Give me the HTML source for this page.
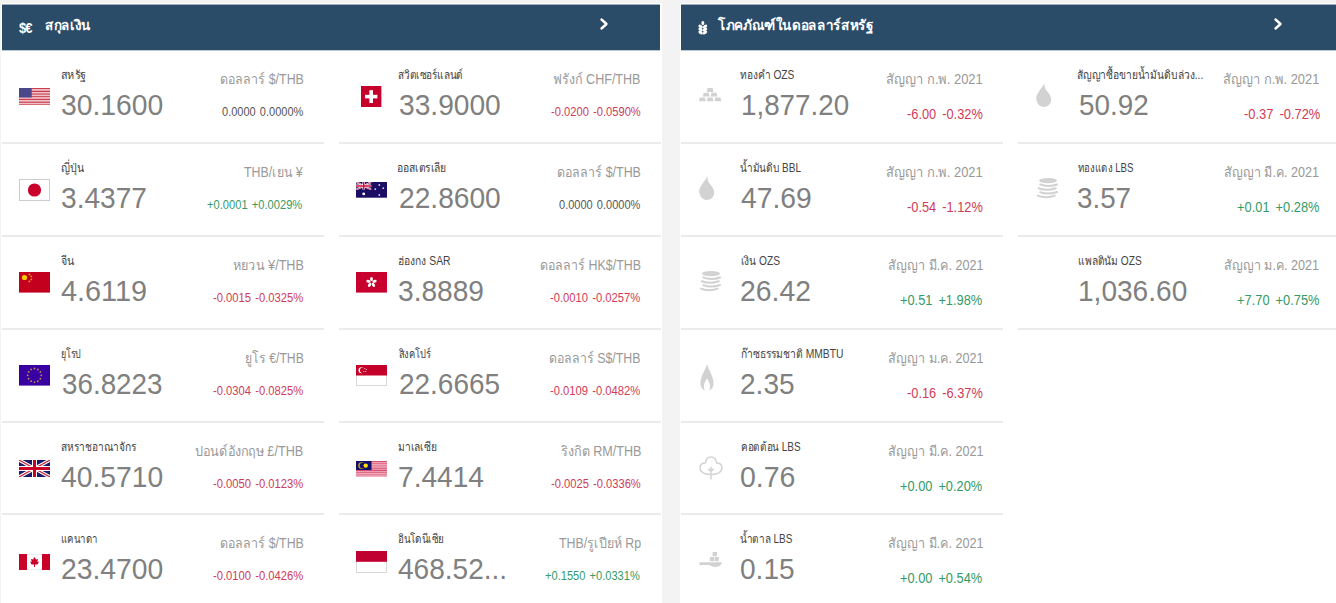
<!DOCTYPE html>
<html><head><meta charset="utf-8"><style>
*{box-sizing:border-box;margin:0;padding:0}
html,body{width:1336px;height:603px;overflow:hidden;background:#f3f3f3;font-family:"Liberation Sans",sans-serif}
.pn{position:absolute;top:3px;background:#fff;height:610px;overflow:hidden}
.hd{position:absolute;left:1px;top:2px;right:0;height:45px;background:#2b4c68;color:#fff;box-shadow:0 -1px 0 rgba(43,76,104,.45),0 1px 0 rgba(43,76,104,.3)}
.c{position:absolute;width:322px;height:93px}
.sep{position:absolute;left:0;right:0;top:92px;height:2px;background:#ebebeb}
.t{position:absolute;white-space:nowrap;line-height:1;transform-origin:0 0}
.lab{font-size:12px;color:#444}
.val{font-size:29px;color:#808080}
.rt{font-size:14px;color:#999}
.rb{font-size:12px}
.crb{font-size:14px}
.gp{display:inline-block;width:4.5px}
.crb .gp{width:6.5px}
.r{color:#d03c58}.g{color:#359a66}.n{color:#555}
svg{position:absolute;overflow:visible}
svg.fl{overflow:hidden}
</style></head><body>
<div class="pn" style="left:1px;width:660.5px">
<div class="hd" style="width:658px"><div class="t" style="left:16.8px;top:16px;font-size:14px;font-weight:bold;letter-spacing:-1px;transform:scaleX(0.93)">$€</div><div class="t" style="left:43px;top:13px;font-size:14px;font-weight:bold;transform:scaleX(0.955)">สกุลเงิน</div><svg style="left:598px;top:12.6px" width="10" height="12" viewBox="0 0 10 12"><path d="M1.5 1.5L6.5 6L1.5 10.5" stroke="#fff" stroke-width="2.4" fill="none" stroke-linecap="round" stroke-linejoin="round"/></svg></div>
<div class="c" style="left:1px;top:47px"><svg class="fl" style="left:17.00px;top:37.90px" width="31" height="17.6" viewBox="0 0 31 17.6"><rect x="0" y="0.00" width="31" height="1.40" fill="#c8404f"/><rect x="0" y="1.35" width="31" height="1.40" fill="#f2c0c8"/><rect x="0" y="2.71" width="31" height="1.40" fill="#c8404f"/><rect x="0" y="4.06" width="31" height="1.40" fill="#f2c0c8"/><rect x="0" y="5.42" width="31" height="1.40" fill="#c8404f"/><rect x="0" y="6.77" width="31" height="1.40" fill="#f2c0c8"/><rect x="0" y="8.12" width="31" height="1.40" fill="#c8404f"/><rect x="0" y="9.48" width="31" height="1.40" fill="#f2c0c8"/><rect x="0" y="10.83" width="31" height="1.40" fill="#c8404f"/><rect x="0" y="12.18" width="31" height="1.40" fill="#f2c0c8"/><rect x="0" y="13.54" width="31" height="1.40" fill="#c8404f"/><rect x="0" y="14.89" width="31" height="1.40" fill="#f2c0c8"/><rect x="0" y="16.25" width="31" height="1.40" fill="#c8404f"/><rect x="0" y="0" width="12.7" height="9.48" fill="#4b478a"/></svg><div id="c00l" class="t lab" style="left:59.00px;top:19px;transform:scaleX(0.9022)">สหรัฐ</div><div id="c00v" class="t val" style="left:58.56px;top:41px;transform:scaleX(0.9762)">30.1600</div><div id="c00t" class="t rt" style="left:217.67px;top:22px;transform:scaleX(0.8872)">ดอลลาร์ $/THB</div><div id="c00b" class="t rb n" style="left:220.00px;top:56px;transform:scaleX(0.9182)">0.0000<i class="gp"></i>0.0000%</div><div class="sep"></div></div>
<div class="c" style="left:1px;top:140px"><svg class="fl" style="left:17.00px;top:35.70px" width="31" height="22" viewBox="0 0 31 22"><rect x="0.5" y="0.5" width="30" height="21" fill="#fff" stroke="#ccc"/><circle cx="15.5" cy="11" r="6.6" fill="#c8002a"/></svg><div id="c01l" class="t lab" style="left:59.00px;top:19px;transform:scaleX(0.8846)">ญี่ปุ่น</div><div id="c01v" class="t val" style="left:58.50px;top:41px;transform:scaleX(0.9690)">3.4377</div><div id="c01t" class="t rt" style="left:242.31px;top:22px;transform:scaleX(0.8824)">THB/เยน ¥</div><div id="c01b" class="t rb g" style="left:205.16px;top:56px;transform:scaleX(0.9286)">+0.0001<i class="gp"></i>+0.0029%</div><div class="sep"></div></div>
<div class="c" style="left:1px;top:233px"><svg class="fl" style="left:17.00px;top:36.40px" width="31" height="20.6" viewBox="0 0 31 20.6"><rect width="31" height="20.6" fill="#c4001f"/><circle cx="5.5" cy="5.5" r="2.6" fill="#f5d000"/><circle cx="10.4" cy="2.4" r="0.9" fill="#e8a000"/><circle cx="12.3" cy="4.4" r="0.9" fill="#e8a000"/><circle cx="12.3" cy="7.4" r="0.9" fill="#e8a000"/><circle cx="10.4" cy="9.4" r="0.9" fill="#e8a000"/></svg><div id="c02l" class="t lab" style="left:59.00px;top:19px;transform:scaleX(0.8919)">จีน</div><div id="c02v" class="t val" style="left:59.00px;top:41px;transform:scaleX(0.9953)">4.6119</div><div id="c02t" class="t rt" style="left:230.71px;top:22px;transform:scaleX(0.9027)">หยวน ¥/THB</div><div id="c02b" class="t rb r" style="left:211.14px;top:56px;transform:scaleX(0.9351)">-0.0015<i class="gp"></i>-0.0325%</div><div class="sep"></div></div>
<div class="c" style="left:1px;top:326px"><svg class="fl" style="left:17.00px;top:36.40px" width="31" height="20.6" viewBox="0 0 31 20.6"><rect width="31" height="20.6" fill="#3800a0"/><circle cx="15.50" cy="3.50" r="0.9" fill="#c89050"/><circle cx="18.90" cy="4.41" r="0.9" fill="#c89050"/><circle cx="21.39" cy="6.90" r="0.9" fill="#c89050"/><circle cx="22.30" cy="10.30" r="0.9" fill="#c89050"/><circle cx="21.39" cy="13.70" r="0.9" fill="#c89050"/><circle cx="18.90" cy="16.19" r="0.9" fill="#c89050"/><circle cx="15.50" cy="17.10" r="0.9" fill="#c89050"/><circle cx="12.10" cy="16.19" r="0.9" fill="#c89050"/><circle cx="9.61" cy="13.70" r="0.9" fill="#c89050"/><circle cx="8.70" cy="10.30" r="0.9" fill="#c89050"/><circle cx="9.61" cy="6.90" r="0.9" fill="#c89050"/><circle cx="12.10" cy="4.41" r="0.9" fill="#c89050"/></svg><div id="c03l" class="t lab" style="left:59.11px;top:19px;transform:scaleX(0.7478)">ยุโรป</div><div id="c03v" class="t val" style="left:59.55px;top:41px;transform:scaleX(0.9584)">36.8223</div><div id="c03t" class="t rt" style="left:242.88px;top:22px;transform:scaleX(0.8701)">ยูโร €/THB</div><div id="c03b" class="t rb r" style="left:211.14px;top:56px;transform:scaleX(0.9351)">-0.0304<i class="gp"></i>-0.0825%</div><div class="sep"></div></div>
<div class="c" style="left:1px;top:419px"><svg class="fl" style="left:17.00px;top:38.20px" width="31" height="17" viewBox="0 0 31 17"><rect width="31" height="17" fill="#1a1a6a"/><path d="M0 0L31 17M31 0L0 17" stroke="#fff" stroke-width="3.4"/><path d="M0 0L31 17M31 0L0 17" stroke="#d0303f" stroke-width="1.3"/><path d="M15.5 0V17M0 8.5H31" stroke="#fff" stroke-width="5"/><path d="M15.5 0V17M0 8.5H31" stroke="#cc0022" stroke-width="3"/></svg><div id="c04l" class="t lab" style="left:59.00px;top:19px;transform:scaleX(0.8506)">สหราชอาณาจักร</div><div id="c04v" class="t val" style="left:59.00px;top:41px;transform:scaleX(0.9742)">40.5710</div><div id="c04t" class="t rt" style="left:193.02px;top:22px;transform:scaleX(0.9057)">ปอนด์อังกฤษ £/THB</div><div id="c04b" class="t rb r" style="left:211.14px;top:56px;transform:scaleX(0.9351)">-0.0050<i class="gp"></i>-0.0123%</div><div class="sep" style="top:91px"></div></div>
<div class="c" style="left:1px;top:511px"><svg class="fl" style="left:17.00px;top:39.70px" width="31" height="16" viewBox="0 0 31 16"><rect width="31" height="16" fill="#fff" stroke="#ddd" stroke-width="1"/><rect width="8" height="16" fill="#c8002a"/><rect x="23" width="8" height="16" fill="#c8002a"/><path d="M15.5 3L17 5.5L19 5L18.3 8L20 7.5L18.5 10.5L16 10.5L16 13L15 13L15 10.5L12.5 10.5L11 7.5L12.7 8L12 5L14 5.5Z" fill="#c8002a"/></svg><div id="c05l" class="t lab" style="left:59.11px;top:19px;transform:scaleX(0.8009)">แคนาดา</div><div id="c05v" class="t val" style="left:58.56px;top:41px;transform:scaleX(0.9762)">23.4700</div><div id="c05t" class="t rt" style="left:217.67px;top:22px;transform:scaleX(0.8872)">ดอลลาร์ $/THB</div><div id="c05b" class="t rb r" style="left:211.14px;top:56px;transform:scaleX(0.9351)">-0.0100<i class="gp"></i>-0.0426%</div><div class="sep"></div></div>
<div class="c" style="left:338px;top:47px"><svg class="fl" style="left:22.30px;top:36.10px" width="20.4" height="21.2" viewBox="0 0 20.4 21.2"><rect width="20.4" height="21.2" fill="#c4002b"/><rect x="8.4" y="4.2" width="3.6" height="12.8" fill="#fff"/><rect x="4" y="8.8" width="12.4" height="3.6" fill="#fff"/></svg><div id="c10l" class="t lab" style="left:59.00px;top:19px;transform:scaleX(0.8348)">สวิตเซอร์แลนด์</div><div id="c10v" class="t val" style="left:59.57px;top:41px;transform:scaleX(0.9709)">33.9000</div><div id="c10t" class="t rt" style="left:214.39px;top:22px;transform:scaleX(0.8968)">ฟรังก์ CHF/THB</div><div id="c10b" class="t rb r" style="left:212.12px;top:56px;transform:scaleX(0.9296)">-0.0200<i class="gp"></i>-0.0590%</div><div class="sep"></div></div>
<div class="c" style="left:338px;top:140px"><svg class="fl" style="left:17.00px;top:38.85px" width="31" height="15.7" viewBox="0 0 31 15.7"><rect width="31" height="15.7" fill="#1c0c64"/><clipPath id="auc"><rect width="15.5" height="7.8"/></clipPath><g clip-path="url(#auc)"><rect width="15.5" height="7.8" fill="#1c0c64"/><path d="M0 0L15.5 7.8M15.5 0L0 7.8" stroke="#fff" stroke-width="1.8"/><path d="M0 0L15.5 7.8M15.5 0L0 7.8" stroke="#d03050" stroke-width="0.8"/><path d="M7.75 0V7.8M0 3.9H15.5" stroke="#fff" stroke-width="2.6"/><path d="M7.75 0V7.8M0 3.9H15.5" stroke="#d0103a" stroke-width="1.5"/></g><circle cx="7.7" cy="11.9" r="1.4" fill="#fff"/><circle cx="23.3" cy="3" r="0.9" fill="#d8d0f0"/><circle cx="27.3" cy="6.2" r="0.9" fill="#d8d0f0"/><circle cx="19.3" cy="7.2" r="0.9" fill="#d8d0f0"/><circle cx="23.3" cy="13" r="0.9" fill="#d8d0f0"/></svg><div id="c11l" class="t lab" style="left:58.05px;top:19px;transform:scaleX(0.8628)">ออสเตรเลีย</div><div id="c11v" class="t val" style="left:59.57px;top:41px;transform:scaleX(0.9709)">22.8600</div><div id="c11t" class="t rt" style="left:217.67px;top:22px;transform:scaleX(0.8872)">ดอลลาร์ $/THB</div><div id="c11b" class="t rb n" style="left:220.00px;top:56px;transform:scaleX(0.9182)">0.0000<i class="gp"></i>0.0000%</div><div class="sep"></div></div>
<div class="c" style="left:338px;top:233px"><svg class="fl" style="left:17.00px;top:36.40px" width="31" height="20.6" viewBox="0 0 31 20.6"><rect width="31" height="20.6" fill="#c8002e"/><ellipse cx="15.50" cy="7.10" rx="1.4" ry="2.2" transform="rotate(0 15.50 7.10)" fill="#fff"/><ellipse cx="18.54" cy="9.31" rx="1.4" ry="2.2" transform="rotate(72 18.54 9.31)" fill="#fff"/><ellipse cx="17.38" cy="12.89" rx="1.4" ry="2.2" transform="rotate(144 17.38 12.89)" fill="#fff"/><ellipse cx="13.62" cy="12.89" rx="1.4" ry="2.2" transform="rotate(216 13.62 12.89)" fill="#fff"/><ellipse cx="12.46" cy="9.31" rx="1.4" ry="2.2" transform="rotate(288 12.46 9.31)" fill="#fff"/><circle cx="15.5" cy="10.3" r="0.8" fill="#c8002e"/></svg><div id="c12l" class="t lab" style="left:58.71px;top:19px;transform:scaleX(0.8604)">ฮ่องกง SAR</div><div id="c12v" class="t val" style="left:59.49px;top:41px;transform:scaleX(0.9695)">3.8889</div><div id="c12t" class="t rt" style="left:200.64px;top:22px;transform:scaleX(0.8851)">ดอลลาร์ HK$/THB</div><div id="c12b" class="t rb r" style="left:211.14px;top:56px;transform:scaleX(0.9351)">-0.0010<i class="gp"></i>-0.0257%</div><div class="sep"></div></div>
<div class="c" style="left:338px;top:326px"><svg class="fl" style="left:17.00px;top:36.20px" width="31" height="21" viewBox="0 0 31 21"><rect x="0.5" y="0.5" width="30" height="20" fill="#fff" stroke="#d8d8d8"/><rect width="31" height="10.5" fill="#c4002a"/><circle cx="5.5" cy="5.2" r="3" fill="#fff"/><circle cx="6.8" cy="5.2" r="2.8" fill="#c4002a"/><circle cx="8.8" cy="3.6" r="0.5" fill="#fff"/><circle cx="10.3" cy="4.6" r="0.5" fill="#fff"/><circle cx="9.8" cy="6.4" r="0.5" fill="#fff"/><circle cx="7.9" cy="6.4" r="0.5" fill="#fff"/></svg><div id="c13l" class="t lab" style="left:59.56px;top:19px;transform:scaleX(0.7762)">สิงคโปร์</div><div id="c13v" class="t val" style="left:59.56px;top:41px;transform:scaleX(0.9640)">22.6665</div><div id="c13t" class="t rt" style="left:210.29px;top:22px;transform:scaleX(0.8797)">ดอลลาร์ S$/THB</div><div id="c13b" class="t rb r" style="left:211.14px;top:56px;transform:scaleX(0.9351)">-0.0109<i class="gp"></i>-0.0482%</div><div class="sep"></div></div>
<div class="c" style="left:338px;top:419px"><svg class="fl" style="left:17.00px;top:38.85px" width="31" height="15.7" viewBox="0 0 31 15.7"><rect x="0" y="0.00" width="31" height="1.17" fill="#d8506e"/><rect x="0" y="1.12" width="31" height="1.17" fill="#ec9ab0"/><rect x="0" y="2.24" width="31" height="1.17" fill="#d8506e"/><rect x="0" y="3.36" width="31" height="1.17" fill="#ec9ab0"/><rect x="0" y="4.49" width="31" height="1.17" fill="#d8506e"/><rect x="0" y="5.61" width="31" height="1.17" fill="#ec9ab0"/><rect x="0" y="6.73" width="31" height="1.17" fill="#d8506e"/><rect x="0" y="7.85" width="31" height="1.17" fill="#ec9ab0"/><rect x="0" y="8.97" width="31" height="1.17" fill="#d8506e"/><rect x="0" y="10.09" width="31" height="1.17" fill="#ec9ab0"/><rect x="0" y="11.21" width="31" height="1.17" fill="#d8506e"/><rect x="0" y="12.34" width="31" height="1.17" fill="#ec9ab0"/><rect x="0" y="13.46" width="31" height="1.17" fill="#d8506e"/><rect x="0" y="14.58" width="31" height="1.17" fill="#ec9ab0"/><rect width="15.5" height="9" fill="#10106a"/><circle cx="5.6" cy="4.6" r="3.4" fill="#d0a000"/><circle cx="6.6" cy="4.6" r="2.9" fill="#10106a"/><circle cx="9.7" cy="4.6" r="2.2" fill="#ffe000"/></svg><div id="c14l" class="t lab" style="left:59.00px;top:19px;transform:scaleX(0.8580)">มาเลเซีย</div><div id="c14v" class="t val" style="left:58.56px;top:41px;transform:scaleX(0.9691)">7.4414</div><div id="c14t" class="t rt" style="left:221.50px;top:22px;transform:scaleX(0.8989)">ริงกิต RM/THB</div><div id="c14b" class="t rb r" style="left:212.12px;top:56px;transform:scaleX(0.9296)">-0.0025<i class="gp"></i>-0.0336%</div><div class="sep" style="top:91px"></div></div>
<div class="c" style="left:338px;top:511px"><svg class="fl" style="left:17.00px;top:36.70px" width="31" height="22" viewBox="0 0 31 22"><rect x="0.5" y="0.5" width="30" height="21" fill="#fff" stroke="#d8d8d8"/><rect width="31" height="10.8" fill="#c00030"/></svg><div id="c15l" class="t lab" style="left:59.00px;top:19px;transform:scaleX(0.8194)">อินโดนีเซีย</div><div id="c15v" class="t val" style="left:59.00px;top:41px;transform:scaleX(0.9667)">468.52...</div><div id="c15t" class="t rt" style="left:219.55px;top:22px;transform:scaleX(0.8859)">THB/รูเปียห์ Rp</div><div id="c15b" class="t rb g" style="left:206.12px;top:56px;transform:scaleX(0.9241)">+0.1550<i class="gp"></i>+0.0331%</div><div class="sep"></div></div>
</div>
<div class="pn" style="left:680px;width:670px">
<div class="hd"><svg style="left:17px;top:16px" width="10" height="14" viewBox="0 0 10 14"><ellipse cx="4.8" cy="2.1" rx="1.5" ry="2.1" fill="#fff"/><g fill="#fff"><ellipse cx="2.6" cy="5.6" rx="2.5" ry="1.5" transform="rotate(35 2.6 5.6)"/><ellipse cx="7" cy="5.6" rx="2.5" ry="1.5" transform="rotate(-35 7 5.6)"/><ellipse cx="2.6" cy="8.6" rx="2.5" ry="1.5" transform="rotate(35 2.6 8.6)"/><ellipse cx="7" cy="8.6" rx="2.5" ry="1.5" transform="rotate(-35 7 8.6)"/><ellipse cx="2.6" cy="11.6" rx="2.5" ry="1.5" transform="rotate(35 2.6 11.6)"/><ellipse cx="7" cy="11.6" rx="2.5" ry="1.5" transform="rotate(-35 7 11.6)"/></g></svg><div class="t" style="left:37.3px;top:13px;font-size:14px;font-weight:bold;transform:scaleX(0.962)">โภคภัณฑ์ในดอลลาร์สหรัฐ</div><svg style="left:592.5px;top:12.7px" width="10" height="12" viewBox="0 0 10 12"><path d="M1.5 1.5L6.5 6L1.5 10.5" stroke="#fff" stroke-width="2.4" fill="none" stroke-linecap="round" stroke-linejoin="round"/></svg></div>
<div class="c" style="left:1px;top:47px"><svg style="left:18.40px;top:38.20px" width="23" height="14" viewBox="0 0 23 14"><path d="M8.50 0H13.70L14.45 3.9H7.75Z" fill="#d2d2d2"/><path d="M4.62 4.7H9.82L10.57 8.6H3.88Z" fill="#d2d2d2"/><path d="M12.38 4.7H17.57L18.32 8.6H11.62Z" fill="#d2d2d2"/><path d="M0.75 9.4H5.95L6.70 13.3H0.00Z" fill="#d2d2d2"/><path d="M8.50 9.4H13.70L14.45 13.3H7.75Z" fill="#d2d2d2"/><path d="M16.25 9.4H21.45L22.20 13.3H15.50Z" fill="#d2d2d2"/></svg><div id="m00l" class="t lab" style="left:59.00px;top:19px;transform:scaleX(0.8487)">ทองคำ OZS</div><div id="m00v" class="t val" style="left:59.96px;top:41px;transform:scaleX(0.9578)">1,877.20</div><div id="m00t" class="t rt" style="left:205.19px;top:22px;transform:scaleX(0.9241)">สัญญา ก.พ. 2021</div><div id="m00b" class="t crb r" style="left:226.12px;top:57px;transform:scaleX(0.9156)">-6.00<i class="gp"></i>-0.32%</div><div class="sep"></div></div>
<div class="c" style="left:1px;top:140px"><svg style="left:18.30px;top:33.40px" width="16" height="24" viewBox="0 0 16 24"><path d="M8.3 0C7.5 3 1.5 9 0.3 14C-0.4 19.5 3.5 23.9 7.6 23.9C12 23.9 15.3 20.5 15.2 16.4C15.1 12.5 12.3 9.8 10.3 7.3C8.9 5.4 8.4 3 8.3 0Z" fill="#d2d2d2"/></svg><div id="m01l" class="t lab" style="left:59.00px;top:19px;transform:scaleX(0.8356)">น้ำมันดิบ BBL</div><div id="m01v" class="t val" style="left:59.52px;top:41px;transform:scaleX(0.9748)">47.69</div><div id="m01t" class="t rt" style="left:205.19px;top:22px;transform:scaleX(0.9241)">สัญญา ก.พ. 2021</div><div id="m01b" class="t crb r" style="left:226.12px;top:57px;transform:scaleX(0.9156)">-0.54<i class="gp"></i>-1.12%</div><div class="sep"></div></div>
<div class="c" style="left:1px;top:233px"><svg style="left:19.00px;top:34.60px" width="22" height="21" viewBox="0 0 22 21"><ellipse cx="11" cy="2.6" rx="9" ry="2.6" fill="#d2d2d2"/><path d="M2.5 6.2Q11 9.8 20.8 6.2" stroke="#d2d2d2" stroke-width="2" fill="none"/><path d="M1 10Q10 13.6 19.5 10" stroke="#d2d2d2" stroke-width="2" fill="none"/><path d="M2.5 13.8Q11 17.4 20.8 13.8" stroke="#d2d2d2" stroke-width="2" fill="none"/><path d="M0.2 17.4Q9 21 18.5 17.4" stroke="#d2d2d2" stroke-width="2" fill="none"/></svg><div id="m02l" class="t lab" style="left:59.55px;top:19px;transform:scaleX(0.8478)">เงิน OZS</div><div id="m02v" class="t val" style="left:58.54px;top:41px;transform:scaleX(0.9773)">26.42</div><div id="m02t" class="t rt" style="left:206.60px;top:22px;transform:scaleX(0.9048)">สัญญา มี.ค. 2021</div><div id="m02b" class="t crb g" style="left:218.57px;top:57px;transform:scaleX(0.9152)">+0.51<i class="gp"></i>+1.98%</div><div class="sep"></div></div>
<div class="c" style="left:1px;top:326px"><svg style="left:18.60px;top:35.00px" width="14" height="26.5" viewBox="0 0 14 26.5"><path d="M7 0C5.5 6 0.5 12 0.5 19C0.5 23 2.5 25.8 4.8 26.2C3 23 4 19 7 14.5C10 19 11 23 9.2 26.2C11.5 25.8 13.5 23 13.5 19C13.5 12 8.5 6 7 0Z" fill="#d2d2d2"/></svg><div id="m03l" class="t lab" style="left:59.67px;top:19px;transform:scaleX(0.8579)">ก๊าซธรรมชาติ MMBTU</div><div id="m03v" class="t val" style="left:58.55px;top:41px;transform:scaleX(0.9671)">2.35</div><div id="m03t" class="t rt" style="left:206.60px;top:22px;transform:scaleX(0.9048)">สัญญา ม.ค. 2021</div><div id="m03b" class="t crb r" style="left:226.12px;top:57px;transform:scaleX(0.9156)">-0.16<i class="gp"></i>-6.37%</div><div class="sep"></div></div>
<div class="c" style="left:1px;top:419px"><svg style="left:18.30px;top:34.00px" width="24" height="24" viewBox="0 0 24 24"><path d="M11.8 18.4C8 18.4 1.3 17.4 1 12C0.8 8.6 3.5 6.7 6.3 6.9C6.9 3.1 9.2 0.9 12 0.9C14.8 0.9 17.1 3.1 17.7 6.9C20.5 6.7 23.2 8.6 23 12C22.7 17.4 16 18.4 12.2 18.4" stroke="#d2d2d2" stroke-width="1.5" fill="none"/><path d="M12 10.8V23.5M9.3 12.8L12 15.4L14.7 12.8" stroke="#d2d2d2" stroke-width="1.5" fill="none"/></svg><div id="m04l" class="t lab" style="left:59.56px;top:19px;transform:scaleX(0.8264)">คอตต้อน LBS</div><div id="m04v" class="t val" style="left:58.50px;top:41px;transform:scaleX(0.9824)">0.76</div><div id="m04t" class="t rt" style="left:206.60px;top:22px;transform:scaleX(0.9048)">สัญญา มี.ค. 2021</div><div id="m04b" class="t crb g" style="left:218.57px;top:57px;transform:scaleX(0.9152)">+0.00<i class="gp"></i>+0.20%</div><div class="sep" style="top:91px"></div></div>
<div class="c" style="left:1px;top:511px"><svg style="left:18.30px;top:38.00px" width="23.5" height="15.2" viewBox="0 0 23.5 15.2"><rect x="13.6" y="0" width="4.4" height="4.2" fill="#d2d2d2"/><rect x="10.8" y="5" width="4.2" height="4.2" fill="#d2d2d2"/><rect x="15.6" y="5" width="4.2" height="4.2" fill="#d2d2d2"/><path d="M0.5 10.3H23C22.5 13 20 15 16.5 15C13.5 15 12 13.2 10 12.9H0.5Z" fill="#d2d2d2"/></svg><div id="m05l" class="t lab" style="left:59.00px;top:19px;transform:scaleX(0.8320)">น้ำตาล LBS</div><div id="m05v" class="t val" style="left:58.51px;top:41px;transform:scaleX(0.9679)">0.15</div><div id="m05t" class="t rt" style="left:206.60px;top:22px;transform:scaleX(0.9048)">สัญญา มี.ค. 2021</div><div id="m05b" class="t crb g" style="left:218.57px;top:57px;transform:scaleX(0.9152)">+0.00<i class="gp"></i>+0.54%</div><div class="sep"></div></div>
<div class="c" style="left:338px;top:47px"><svg style="left:18.30px;top:33.40px" width="16" height="24" viewBox="0 0 16 24"><path d="M8.3 0C7.5 3 1.5 9 0.3 14C-0.4 19.5 3.5 23.9 7.6 23.9C12 23.9 15.3 20.5 15.2 16.4C15.1 12.5 12.3 9.8 10.3 7.3C8.9 5.4 8.4 3 8.3 0Z" fill="#d2d2d2"/></svg><div id="m10l" class="t lab" style="left:59.08px;top:19px;transform:scaleX(0.8532)">สัญญาซื้อขายน้ำมันดิบล่วง...</div><div id="m10v" class="t val" style="left:60.73px;top:41px;transform:scaleX(0.9591)">50.92</div><div id="m10t" class="t rt" style="left:205.23px;top:22px;transform:scaleX(0.9201)">สัญญา ก.พ. 2021</div><div id="m10b" class="t crb r" style="left:226.12px;top:57px;transform:scaleX(0.9223)">-0.37<i class="gp"></i>-0.72%</div><div class="sep"></div></div>
<div class="c" style="left:338px;top:140px"><svg style="left:19.00px;top:34.60px" width="22" height="21" viewBox="0 0 22 21"><ellipse cx="11" cy="2.6" rx="9" ry="2.6" fill="#d2d2d2"/><path d="M2.5 6.2Q11 9.8 20.8 6.2" stroke="#d2d2d2" stroke-width="2" fill="none"/><path d="M1 10Q10 13.6 19.5 10" stroke="#d2d2d2" stroke-width="2" fill="none"/><path d="M2.5 13.8Q11 17.4 20.8 13.8" stroke="#d2d2d2" stroke-width="2" fill="none"/><path d="M0.2 17.4Q9 21 18.5 17.4" stroke="#d2d2d2" stroke-width="2" fill="none"/></svg><div id="m11l" class="t lab" style="left:60.00px;top:19px;transform:scaleX(0.8031)">ทองแดง LBS</div><div id="m11v" class="t val" style="left:59.31px;top:41px;transform:scaleX(0.9577)">3.57</div><div id="m11t" class="t rt" style="left:206.25px;top:22px;transform:scaleX(0.8990)">สัญญา มี.ค. 2021</div><div id="m11b" class="t crb g" style="left:219.00px;top:57px;transform:scaleX(0.9183)">+0.01<i class="gp"></i>+0.28%</div><div class="sep"></div></div>
<div class="c" style="left:338px;top:233px"><div id="m12l" class="t lab" style="left:60.11px;top:19px;transform:scaleX(0.8490)">แพลตินัม OZS</div><div id="m12v" class="t val" style="left:59.77px;top:41px;transform:scaleX(0.9677)">1,036.60</div><div id="m12t" class="t rt" style="left:206.25px;top:22px;transform:scaleX(0.8990)">สัญญา ม.ค. 2021</div><div id="m12b" class="t crb g" style="left:219.00px;top:57px;transform:scaleX(0.9183)">+7.70<i class="gp"></i>+0.75%</div><div class="sep"></div></div>
</div>
</body></html>
